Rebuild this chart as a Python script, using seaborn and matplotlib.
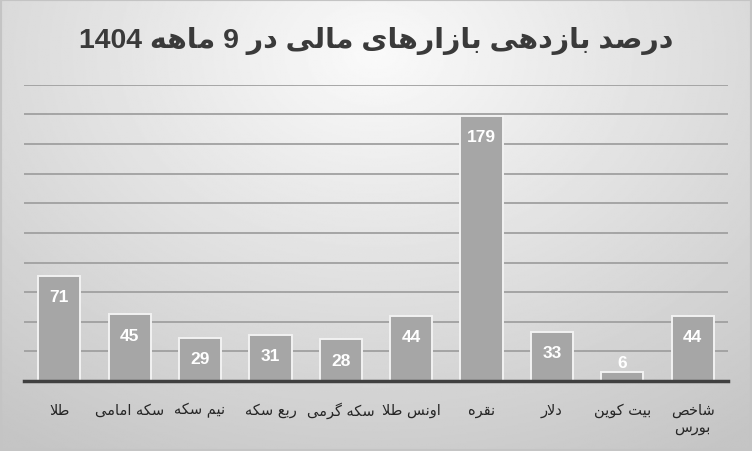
import numpy as np
import pandas as pd
import matplotlib
matplotlib.use('Agg')
import matplotlib.pyplot as plt
import seaborn as sns

# --- data ---
title_text = "درصد بازدهی بازارهای مالی در 9 ماهه 1404"
categories = ["طلا", "سکه امامی", "نیم سکه", "ربع سکه", "سکه گرمی",
              "اونس طلا", "نقره", "دلار", "بیت کوین", "شاخص\nبورس"]
returns = [71, 45, 29, 31, 28, 44, 179, 33, 6, 44]

# matplotlib has no Arabic shaping, so do a small Persian reshape by hand
# forms: isolated, final, initial, medial (None -> letter does not join forward)
FORMS = {
    'ا': (0xFE8D, 0xFE8E, None, None),
    'ب': (0xFE8F, 0xFE90, 0xFE91, 0xFE92),
    'ت': (0xFE95, 0xFE96, 0xFE97, 0xFE98),
    'خ': (0xFEA5, 0xFEA6, 0xFEA7, 0xFEA8),
    'د': (0xFEA9, 0xFEAA, None, None),
    'ر': (0xFEAD, 0xFEAE, None, None),
    'ز': (0xFEAF, 0xFEB0, None, None),
    'س': (0xFEB1, 0xFEB2, 0xFEB3, 0xFEB4),
    'ش': (0xFEB5, 0xFEB6, 0xFEB7, 0xFEB8),
    'ص': (0xFEB9, 0xFEBA, 0xFEBB, 0xFEBC),
    'ط': (0xFEC1, 0xFEC2, 0xFEC3, 0xFEC4),
    'ع': (0xFEC9, 0xFECA, 0xFECB, 0xFECC),
    'ق': (0xFED5, 0xFED6, 0xFED7, 0xFED8),
    'ل': (0xFEDD, 0xFEDE, 0xFEDF, 0xFEE0),
    'م': (0xFEE1, 0xFEE2, 0xFEE3, 0xFEE4),
    'ن': (0xFEE5, 0xFEE6, 0xFEE7, 0xFEE8),
    'ه': (0xFEE9, 0xFEEA, 0xFEEB, 0xFEEC),
    'و': (0xFEED, 0xFEEE, None, None),
    'ی': (0xFBFC, 0xFBFD, 0xFBFE, 0xFBFF),
    'ک': (0xFB8E, 0xFB8F, 0xFB90, 0xFB91),
    'گ': (0xFB92, 0xFB93, 0xFB94, 0xFB95),
    'لا': (0xFEFB, 0xFEFC, None, None),
}


def shape_word(word):
    word = word.replace('لا', '\x00')
    letters = ['لا' if c == '\x00' else c for c in word]
    out = []
    for i, c in enumerate(letters):
        f = FORMS.get(c)
        if f is None:
            out.append(c)
            continue
        prev = FORMS.get(letters[i - 1]) if i > 0 else None
        nxt = FORMS.get(letters[i + 1]) if i + 1 < len(letters) else None
        join_prev = prev is not None and prev[2] is not None
        join_next = nxt is not None and f[2] is not None
        if join_prev and join_next:
            code = f[3]
        elif join_prev:
            code = f[1]
        elif join_next:
            code = f[2]
        else:
            code = f[0]
        out.append(chr(code))
    return ''.join(out)


def rtl(text):
    lines = []
    for line in text.split('\n'):
        words = []
        for w in line.split(' '):
            if any(ch in FORMS for ch in w):
                words.append(shape_word(w)[::-1])
            else:
                words.append(w)
        lines.append(' '.join(words[::-1]))
    return '\n'.join(lines)


df = pd.DataFrame({'market': [rtl(c) for c in categories], 'value': returns})

sns.set_theme(style='white')
plt.rcParams['font.family'] = ['Liberation Sans', 'DejaVu Sans']

fig = plt.figure(figsize=(7.52, 4.52), dpi=100)

# gradient background
bg = fig.add_axes([0, 0, 1, 1], zorder=-1)
yy, xx = np.mgrid[0:1:300j, 0:1:500j]
r = np.sqrt(((xx - 0.5) / 0.8) ** 2 + ((yy - 0.12) / 1.0) ** 2)
shade = np.clip(0.98 - 0.2 * r, 0.77, 0.98)
bg.imshow(shade, cmap='gray', vmin=0, vmax=1, extent=[0, 1, 0, 1],
          origin='upper', aspect='auto')
bg.add_patch(plt.Rectangle((0, 0), 1, 1, fill=False, ec='#c4c4c4', lw=3,
                           transform=bg.transAxes))
bg.axis('off')

ax = fig.add_axes([0.032, 0.155, 0.936, 0.655])
ax.patch.set_alpha(0)
sns.barplot(data=df, x='market', y='value', color='#a6a6a6', saturation=1,
            width=0.6, edgecolor='#f2f2f2', linewidth=1.4, ax=ax, zorder=3)

ax.set_ylim(0, 200)
ax.set_yticks(range(0, 201, 20))
ax.yaxis.grid(True, color='#a0a0a0', linewidth=1.3, zorder=0)
ax.set_axisbelow(True)
ax.tick_params(axis='y', left=False, labelleft=False)
ax.tick_params(axis='x', bottom=False, pad=9)
for lab in ax.get_xticklabels():
    lab.set_fontsize(10.5)
    lab.set_color('#262626')
    lab.set_family(['DejaVu Sans'])
    lab.set_verticalalignment('top')
ax.set_xlabel('')
ax.set_ylabel('')
for s in ['top', 'right', 'left']:
    ax.spines[s].set_visible(False)
ax.spines['bottom'].set_color('#404040')
ax.spines['bottom'].set_linewidth(2.5)
ax.spines['bottom'].set_zorder(4)

for bar, v in zip(ax.patches, returns):
    x = bar.get_x() + bar.get_width() / 2
    off = -15 if v > 15 else 7
    ax.annotate(str(v), (x, bar.get_height()), xytext=(0, off),
                textcoords='offset points', ha='center', va='center',
                fontsize=12.5, fontweight='bold', color='white', zorder=5)

fig.text(0.5, 0.91, rtl(title_text), ha='center', va='center',
         fontsize=20.5, fontweight='bold', color='#3a3a3a',
         family=['Liberation Sans', 'DejaVu Sans'])

fig.savefig('out.png', dpi=100)
